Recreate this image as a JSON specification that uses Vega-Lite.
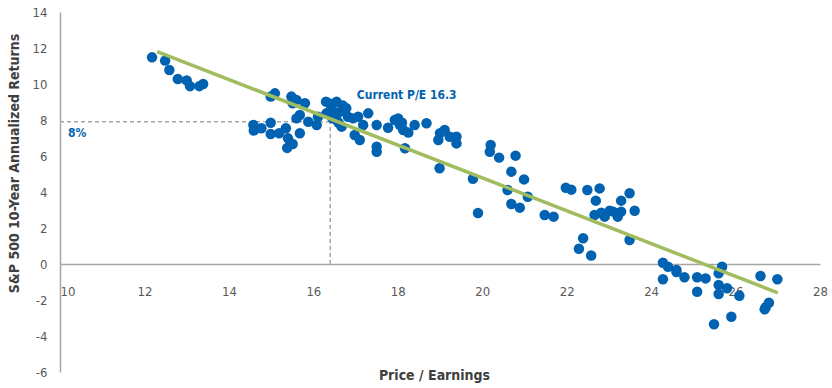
{
  "$schema": "https://vega.github.io/schema/vega-lite/v6.json",
  "width": 760,
  "height": 360,
  "autosize": "none",
  "padding": {"left": 60, "top": 12, "right": 12, "bottom": 16},
  "background": "white",
  "config": {
    "view": {"stroke": null},
    "font": "DejaVu Sans Condensed, sans-serif"
  },
  "datasets": {
    "points": [
      {"x": 12.18, "y": 11.48}, {"x": 12.49, "y": 11.3}, {"x": 12.59, "y": 10.78}, {"x": 12.79, "y": 10.28},
      {"x": 13.0, "y": 10.2}, {"x": 13.08, "y": 9.88}, {"x": 13.3, "y": 9.88}, {"x": 13.39, "y": 10.0},
      {"x": 14.58, "y": 7.72}, {"x": 14.59, "y": 7.42}, {"x": 14.77, "y": 7.54}, {"x": 14.99, "y": 7.85},
      {"x": 14.99, "y": 7.22}, {"x": 15.19, "y": 7.26}, {"x": 15.35, "y": 7.54}, {"x": 15.4, "y": 6.98},
      {"x": 15.38, "y": 6.45}, {"x": 15.51, "y": 6.67}, {"x": 15.68, "y": 7.26}, {"x": 14.99, "y": 9.3},
      {"x": 15.09, "y": 9.48}, {"x": 15.48, "y": 9.3}, {"x": 15.51, "y": 8.93}, {"x": 15.6, "y": 9.11},
      {"x": 15.8, "y": 8.93}, {"x": 15.6, "y": 8.09}, {"x": 15.68, "y": 8.28}, {"x": 15.88, "y": 7.9},
      {"x": 16.08, "y": 7.72}, {"x": 16.11, "y": 8.18},
      {"x": 16.3, "y": 9.02}, {"x": 16.55, "y": 9.02}, {"x": 16.31, "y": 8.37}, {"x": 16.43, "y": 8.65},
      {"x": 16.63, "y": 8.46}, {"x": 16.78, "y": 8.65}, {"x": 16.55, "y": 8.0}, {"x": 16.67, "y": 7.63},
      {"x": 16.82, "y": 8.18}, {"x": 16.94, "y": 8.09}, {"x": 17.06, "y": 8.18}, {"x": 16.98, "y": 7.17},
      {"x": 17.1, "y": 6.89}, {"x": 17.18, "y": 7.72}, {"x": 17.3, "y": 8.37}, {"x": 17.5, "y": 7.72},
      {"x": 17.5, "y": 6.52}, {"x": 17.5, "y": 6.24}, {"x": 16.4, "y": 8.9}, {"x": 16.5, "y": 8.3},
      {"x": 16.7, "y": 8.8}, {"x": 16.45, "y": 8.1}, {"x": 16.6, "y": 7.85},
      {"x": 17.77, "y": 7.57}, {"x": 17.93, "y": 8.0}, {"x": 18.01, "y": 8.09}, {"x": 18.05, "y": 7.72},
      {"x": 18.13, "y": 7.44}, {"x": 18.17, "y": 6.43}, {"x": 18.4, "y": 7.72}, {"x": 18.1, "y": 7.85},
      {"x": 18.25, "y": 7.3}, {"x": 18.68, "y": 7.82}, {"x": 19.0, "y": 7.26}, {"x": 19.11, "y": 7.44},
      {"x": 18.96, "y": 6.89}, {"x": 19.23, "y": 7.07}, {"x": 19.39, "y": 7.07}, {"x": 19.39, "y": 6.7},
      {"x": 18.99, "y": 5.32},
      {"x": 19.78, "y": 4.74}, {"x": 19.9, "y": 2.83}, {"x": 20.2, "y": 6.61}, {"x": 20.18, "y": 6.24},
      {"x": 20.4, "y": 5.91}, {"x": 20.79, "y": 6.02}, {"x": 20.69, "y": 5.13}, {"x": 20.99, "y": 4.7},
      {"x": 20.6, "y": 4.11}, {"x": 21.08, "y": 3.74}, {"x": 20.69, "y": 3.33}, {"x": 20.89, "y": 3.13},
      {"x": 21.48, "y": 2.72}, {"x": 21.69, "y": 2.63},
      {"x": 21.98, "y": 4.24}, {"x": 22.11, "y": 4.13}, {"x": 22.49, "y": 4.11}, {"x": 22.78, "y": 4.2},
      {"x": 22.69, "y": 3.52}, {"x": 22.66, "y": 2.72}, {"x": 22.82, "y": 2.85}, {"x": 22.9, "y": 2.63},
      {"x": 23.02, "y": 2.96}, {"x": 23.1, "y": 2.91}, {"x": 23.21, "y": 2.63}, {"x": 23.29, "y": 2.91},
      {"x": 23.61, "y": 2.96}, {"x": 23.49, "y": 3.93}, {"x": 23.29, "y": 3.52}, {"x": 23.49, "y": 1.33},
      {"x": 22.39, "y": 1.43}, {"x": 22.29, "y": 0.85}, {"x": 22.58, "y": 0.47},
      {"x": 24.28, "y": 0.07}, {"x": 24.4, "y": -0.15}, {"x": 24.6, "y": -0.33}, {"x": 24.6, "y": -0.45},
      {"x": 24.28, "y": -0.85}, {"x": 24.79, "y": -0.74}, {"x": 25.09, "y": -0.74}, {"x": 25.29, "y": -0.8},
      {"x": 25.09, "y": -1.54}, {"x": 25.68, "y": -0.15}, {"x": 25.6, "y": -0.52}, {"x": 25.6, "y": -1.17},
      {"x": 25.8, "y": -1.35}, {"x": 25.6, "y": -1.67}, {"x": 26.09, "y": -1.76}, {"x": 25.9, "y": -2.93},
      {"x": 25.49, "y": -3.35}, {"x": 26.59, "y": -0.67}, {"x": 26.99, "y": -0.85}, {"x": 26.79, "y": -2.15},
      {"x": 26.71, "y": -2.41}, {"x": 26.69, "y": -2.52}
    ],
    "guides": [
      {"x": 10, "y": 7.9, "x2": 16.4, "y2": 7.9},
      {"x": 16.4, "y": 0, "x2": 16.4, "y2": 7.9}
    ],
    "fit": [
      {"x": 12.3, "y": 11.8, "x2": 27.0, "y2": -1.6}
    ],
    "labels": [
      {"x": 17.03, "y": 9.39, "label": "Current P/E 16.3"},
      {"x": 10.19, "y": 7.3, "label": "8%"}
    ]
  },
  "encoding": {
    "x": {
      "field": "x",
      "type": "quantitative",
      "scale": {"domain": [10, 28], "nice": false, "zero": false},
      "axis": {
        "title": "Price / Earnings",
        "offset": -108,
        "values": [10, 12, 14, 16, 18, 20, 22, 24, 26, 28],
        "grid": false,
        "ticks": false,
        "tickSize": 0,
        "domainColor": "#A6A6A6",
        "domainWidth": 1.5,
        "labelPadding": 21,
        "labelFontSize": 13,
        "labelColor": "#595959",
        "labelAlign": {"condition": {"test": "datum.value == 10", "value": "left"}, "value": "center"},
        "labelFont": "DejaVu Sans Condensed, sans-serif",
        "titleFont": "DejaVu Sans Condensed, sans-serif",
        "titleFontSize": 14,
        "titleFontWeight": "bold",
        "titleColor": "#404040",
        "titleX": 374,
        "titleY": 111,
        "titleBaseline": "middle",
        "titleAlign": "center"
      }
    },
    "y": {
      "field": "y",
      "type": "quantitative",
      "scale": {"domain": [-6, 14], "nice": false, "zero": false},
      "axis": {
        "title": "S&P 500 10-Year Annualized Returns",
        "values": [-6, -4, -2, 0, 2, 4, 6, 8, 10, 12, 14],
        "labelExpr": "datum.value < 0 ? '-' + abs(datum.value) : datum.label",
        "grid": false,
        "ticks": false,
        "tickSize": 0,
        "domainColor": "#A6A6A6",
        "domainWidth": 1.5,
        "labelPadding": 13,
        "labelFontSize": 13,
        "labelColor": "#595959",
        "labelFont": "DejaVu Sans Condensed, sans-serif",
        "titleFont": "DejaVu Sans Condensed, sans-serif",
        "titleFontSize": 14,
        "titleFontWeight": "bold",
        "titleColor": "#404040",
        "titleX": -46,
        "titleY": 151,
        "titleAngle": -90,
        "titleBaseline": "middle",
        "titleAlign": "center"
      }
    }
  },
  "layer": [
    {
      "data": {"name": "guides"},
      "mark": {"type": "rule", "color": "#A6A6A6", "strokeWidth": 1.5, "strokeDash": [4, 3]},
      "encoding": {"x2": {"field": "x2"}, "y2": {"field": "y2"}}
    },
    {
      "data": {"name": "points"},
      "mark": {"type": "circle", "size": 110, "color": "#0062B0", "opacity": 1}
    },
    {
      "data": {"name": "fit"},
      "mark": {"type": "rule", "color": "#A0BC5E", "strokeWidth": 3.5},
      "encoding": {"x2": {"field": "x2"}, "y2": {"field": "y2"}}
    },
    {
      "data": {"name": "labels"},
      "mark": {"type": "text", "align": "left", "baseline": "middle", "fontSize": 12, "fontWeight": "bold", "color": "#0062B0", "font": "DejaVu Sans Condensed, sans-serif"},
      "encoding": {"text": {"field": "label"}}
    }
  ]
}
